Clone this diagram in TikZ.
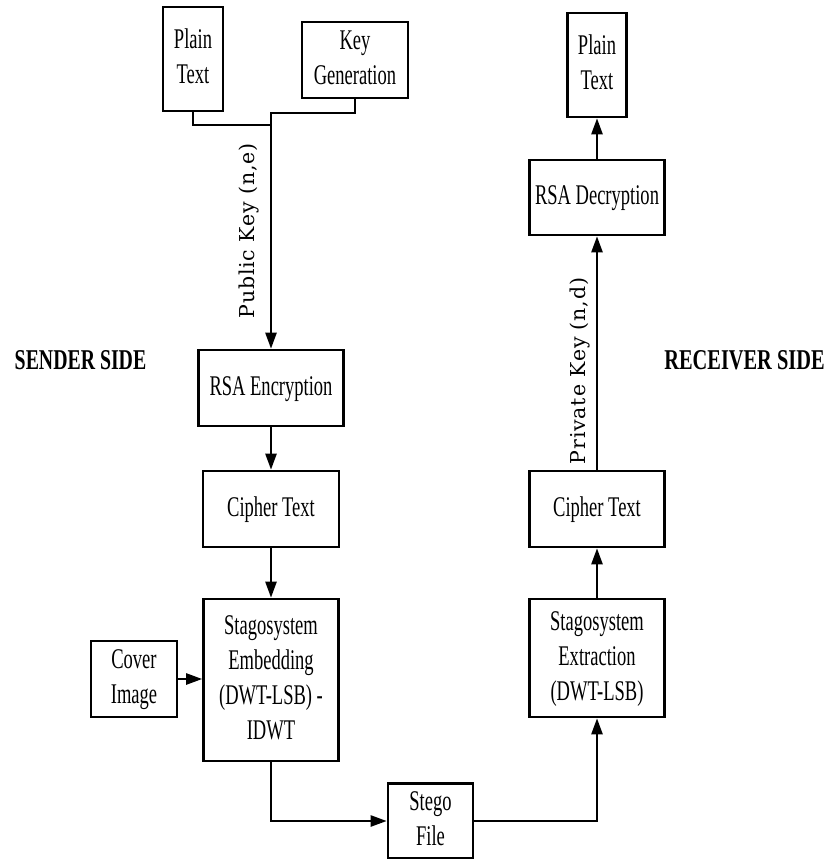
\documentclass[tikz,border=0pt]{standalone}
\usepackage{fontspec}
\setmainfont{Liberation Serif}
\newfontfamily\keyfont[LetterSpace=4]{DejaVu Serif}
\usetikzlibrary{arrows.meta}
\newcommand{\tx}[1]{\scalebox{0.65}[1]{\begin{tabular}{@{}c@{}}#1\end{tabular}}}
\tikzset{
  box/.style={draw, line width=2.6pt, inner sep=0pt, rectangle,
    font=\fontsize{28.5}{35}\selectfont},
  conn/.style={line width=2.4pt},
  arr/.style={line width=2.4pt, -{Triangle[width=11pt,length=16pt]}},
  side/.style={font=\fontsize{28.7}{34}\selectfont\bfseries, inner sep=0pt},
  keylbl/.style={font=\fontsize{20.5}{24}\keyfont, rotate=90, inner sep=0pt}
}
\begin{document}
\begin{tikzpicture}[x=1pt,y=-1pt]
\useasboundingbox (0,0) rectangle (832,859);
% sender side
\node[box, minimum width=60pt, minimum height=104pt] (pt1) at (193,59) {\tx{Plain\\Text}};
\node[box, minimum width=106pt, minimum height=76pt] (kg) at (355,60) {\tx{Key\\Generation}};
\node[box, minimum width=145pt, minimum height=76pt] (rsae) at (271,388) {\tx{RSA Encryption}};
\node[box, minimum width=136pt, minimum height=76pt] (ct1) at (271,509) {\tx{Cipher Text}};
\node[box, minimum width=135pt, minimum height=162pt] (emb) at (271,680) {\tx{Stagosystem\\Embedding\\(DWT-LSB) -\\IDWT}};
\node[box, minimum width=86pt, minimum height=76pt] (cov) at (134,679) {\tx{Cover\\Image}};
\node[box, minimum width=85pt, minimum height=75pt] (stego) at (430.5,821) {\tx{Stego\\File}};
% receiver side
\node[box, minimum width=135pt, minimum height=118pt] (ext) at (597,658) {\tx{Stagosystem\\Extraction\\(DWT-LSB)}};
\node[box, minimum width=135pt, minimum height=76pt] (ct2) at (597,509) {\tx{Cipher Text}};
\node[box, minimum width=135pt, minimum height=75pt] (rsad) at (597,197.5) {\tx{RSA Decryption}};
\node[box, minimum width=59pt, minimum height=104pt] (pt2) at (597,65) {\tx{Plain\\Text}};
% side labels
\node[side] (sender) at (80.5,360) {\scalebox{0.69}[1]{SENDER SIDE}};
\node[side] (receiver) at (744.5,360) {\scalebox{0.71}[1]{RECEIVER SIDE}};
% key labels
\node[keylbl] (pubk) at (249,231) {Public Key (n,e)};
\node[keylbl] (privk) at (580,371) {Private Key (n,d)};
% connectors
\coordinate (j) at (271,113);
\coordinate (j2) at (271,125);
\draw[conn] (pt1.south) |- (j2);
\draw[arr] (kg.south) |- (j) -- (rsae.north);
\draw[arr] (rsae.south) -- (ct1.north);
\draw[arr] (ct1.south) -- (emb.north);
\draw[arr] (cov.east) -- (cov.east -| emb.west);
\draw[arr] (emb.south) |- (stego.west);
\draw[arr] (stego.east) -| (ext.south);
\draw[arr] (ext.north) -- (ct2.south);
\draw[arr] (ct2.north) -- (rsad.south);
\draw[arr] (rsad.north) -- (pt2.south);
\end{tikzpicture}
\end{document}
